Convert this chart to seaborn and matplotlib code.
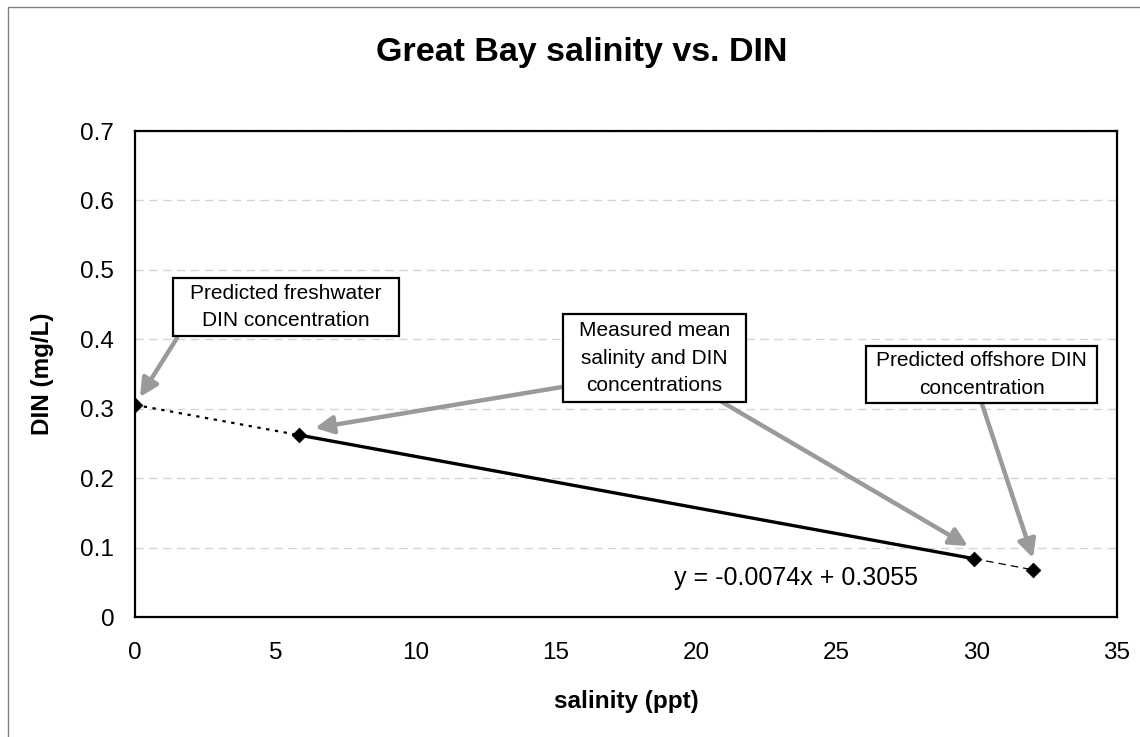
import matplotlib
matplotlib.use("Agg")
import matplotlib.pyplot as plt
from matplotlib.patches import Rectangle
import seaborn as sns
import pandas as pd

# ---- data ----
salinity = [0.0, 5.85, 29.9, 32.0]
din = [0.3055, 0.262, 0.084, 0.068]
segment_labels = ["freshwater", "measured", "offshore"]
x_ticks = [0, 5, 10, 15, 20, 25, 30, 35]
y_ticks = [0, 0.1, 0.2, 0.3, 0.4, 0.5, 0.6, 0.7]
y_tick_labels = ["0", "0.1", "0.2", "0.3", "0.4", "0.5", "0.6", "0.7"]
title = "Great Bay salinity vs. DIN"
x_label = "salinity (ppt)"
y_label = "DIN (mg/L)"
equation = "y = -0.0074x + 0.3055"
notes = ["Predicted freshwater\nDIN concentration",
         "Measured mean\nsalinity and DIN\nconcentrations",
         "Predicted offshore DIN\nconcentration"]

sns.set_theme(style="white")
plt.rcParams["font.family"] = ["Liberation Sans", "DejaVu Sans"]
plt.rcParams["text.color"] = "black"
plt.rcParams["axes.labelcolor"] = "black"

W, H = 1140, 737
fig = plt.figure(figsize=(W / 100, H / 100), dpi=100)
ax = fig.add_axes([135 / W, 1 - 617 / H, (1117 - 135) / W, (617 - 131) / H])

# pixel -> data helpers for annotation layout
def px(x):
    return (x - 135) / ((1117 - 135) / 35)
def py(y):
    return (617 - y) / ((617 - 131) / 0.7)

# segments
seg_styles = [dict(ls=(0, (1.5, 2.5)), lw=1.6), dict(ls="-", lw=2.4), dict(ls=(0, (6, 4)), lw=0.9)]
for i, st in enumerate(seg_styles):
    df = pd.DataFrame({"salinity": salinity[i:i + 2], "DIN": din[i:i + 2]})
    sns.lineplot(data=df, x="salinity", y="DIN", ax=ax, color="black",
                 linestyle=st["ls"], linewidth=st["lw"], zorder=3)
pts = pd.DataFrame({"salinity": salinity, "DIN": din})
sns.scatterplot(data=pts, x="salinity", y="DIN", ax=ax, marker="D", s=55,
                color="black", edgecolor="black", zorder=4)

ax.set_xlim(0, 35)
ax.set_ylim(0, 0.7)
ax.set_xticks(x_ticks)
ax.set_xticklabels([str(t) for t in x_ticks])
ax.set_yticks(y_ticks)
ax.set_yticklabels(y_tick_labels)
ax.yaxis.grid(True, color="#d4d4d4", linestyle=(0, (6, 4)), linewidth=1.0)
ax.xaxis.grid(False)
for s in ax.spines.values():
    s.set_visible(True)
    s.set_color("black")
    s.set_linewidth(1.6)
ax.tick_params(axis="both", which="major", direction="out", length=6, width=0.8,
               color="#555555", labelsize=17.5, labelcolor="black")
ax.tick_params(axis="x", pad=12)
ax.tick_params(axis="y", pad=9)
ax.set_xlabel(x_label, fontsize=17.5, fontweight="bold", labelpad=19, color="black")
ax.set_ylabel(y_label, fontsize=17.5, fontweight="bold", labelpad=19, color="black")

fig.text(582 / W, 1 - 53 / H, title, fontsize=24.5, fontweight="bold",
         ha="center", va="center", color="black")

# equation
ax.text(px(796), py(578), equation, fontsize=18, ha="center", va="center", color="black")

# annotation boxes
boxes = [(173, 278, 399, 336), (563, 314, 746, 402), (866, 346, 1097, 403)]
for (x0, y0, x1, y1), txt in zip(boxes, notes):
    ax.add_patch(Rectangle((px(x0), py(y1)), px(x1) - px(x0), py(y0) - py(y1),
                           facecolor="white", edgecolor="black", linewidth=1.6, zorder=6))
    ax.text(px((x0 + x1) / 2), py((y0 + y1) / 2), txt, fontsize=15, ha="center",
            va="center", linespacing=1.55, zorder=7, color="black")

arrows = [((177, 338), (140, 397)), ((562, 387), (315, 428)),
          ((722, 402), (968, 546)), ((982, 404), (1033, 558))]
for (sx, sy), (tx, ty) in arrows:
    ax.annotate("", xy=(px(tx), py(ty)), xytext=(px(sx), py(sy)),
                arrowprops=dict(arrowstyle="-|>,head_length=0.9,head_width=0.45",
                                color="#9a9a9a", lw=3.2, shrinkA=0, shrinkB=0),
                zorder=5, annotation_clip=False)

# outer chart border
fig.add_artist(Rectangle((8 / W, -0.05), 1.2, 1 - 7 / H + 0.05, transform=fig.transFigure,
                         fill=False, edgecolor="#7f7f7f", linewidth=1.0))

fig.savefig("out.png", dpi=100)
